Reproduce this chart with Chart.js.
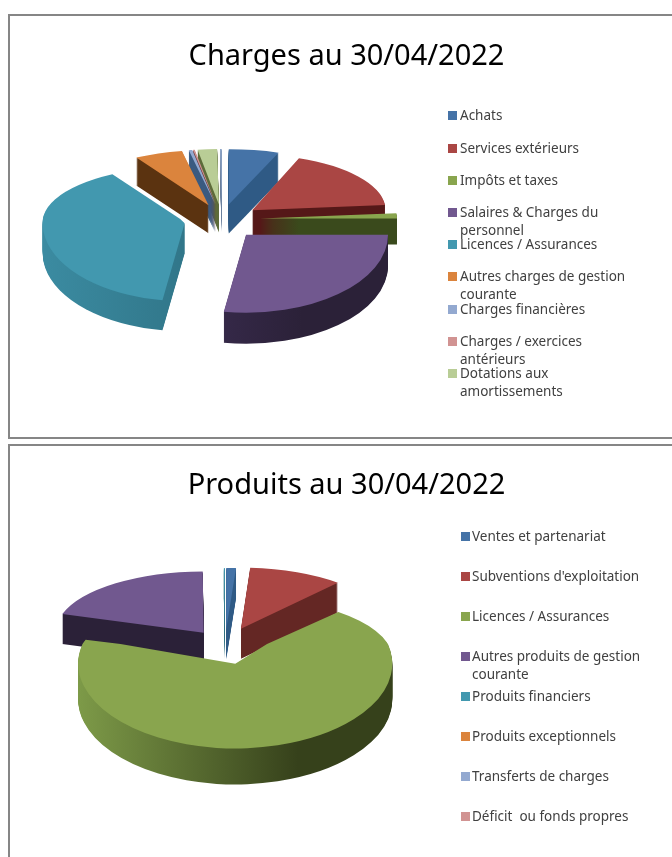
<!DOCTYPE html>
<html lang="fr"><head><meta charset="utf-8">
<script src="https://cdn.jsdelivr.net/npm/chart.js@4"></script>
<style>
html,body{margin:0;padding:0;background:#fff;width:672px;height:857px;overflow:hidden}
.frame{position:absolute;left:8px;width:700px;border:2px solid #868686;box-sizing:border-box;background:#fff}
canvas{position:absolute;left:9px}
.lg{position:absolute;font:13.5px/18px "Noto Sans",sans-serif;color:#404040;width:178px;white-space:pre-wrap}
.sw{position:absolute;width:9px;height:9px}
</style></head><body>
<div class="frame" style="top:14px;height:425px"></div>
<div class="frame" style="top:444px;height:460px"></div>
<div style="position:absolute;left:9px;top:0;width:675px;height:440px"><canvas id="c1" style="left:0"></canvas></div>
<div style="position:absolute;left:9px;top:430px;width:675px;height:427px"><canvas id="c2" style="left:0"></canvas></div>
<div id="legends"></div>
<script>
// ---- data (percent of total) ----
const chargesCategories = ["Achats","Services extérieurs","Impôts et taxes","Salaires & Charges du personnel","Licences / Assurances","Autres charges de gestion courante","Charges financières","Charges / exercices antérieurs","Dotations aux amortissements",""];
const chargesValues = [5.7,17.8,1.5,27.5,39,5.5,0.4,0.2,2.2,0.2];
const produitsCategories = ["Ventes et partenariat","Subventions d'exploitation","Licences / Assurances","Autres produits de gestion courante","Produits financiers","Produits exceptionnels","Transferts de charges","Déficit  ou fonds propres"];
const produitsValues = [1,10.4,68.5,20,0.1,0,0,0];
const chargesTitle = "Charges au 30/04/2022";
const produitsTitle = "Produits au 30/04/2022";

// ---- styles ----
const topColors = ["#4573a7","#aa4644","#89a54e","#71588f","#4298af","#db843d","#93a9d0","#d19392","#b9cd96","#8fa6c8"];
const topColors2 = ["#4573a7","#aa4644","#89a54e","#71588f","#4298af","#db843d","#93a9d0","#d19392"];
const wallL = ["#2f5a85","#551818","#3a4a1c","#43335f","#3b8ba1","#5b3310","#3a5a80","#6b3a3a","#5d6b3a","#6a7f9c"];
const wallR = ["#2f5a85","#551818","#3a4a1c","#2b2138","#2d6e80","#5b3310","#3a5a80","#6b3a3a","#5d6b3a","#6a7f9c"];
const wallL2 = ["#2f5a85","#642724","#7d9a48","#2b2138","#2d6e80","#5b3310","#3a5a80","#6b3a3a"];
const wallR2 = ["#2f5a85","#642724","#36411b","#2b2138","#2d6e80","#5b3310","#3a5a80","#6b3a3a"];

// draws each slice as an extruded, foreshortened wedge using the library's own arc elements
const pie3d = {
  id:'pie3d',
  beforeDatasetDraw(chart){ return false; },
  afterDatasetsDraw(chart,args,o){
    const ctx=chart.ctx, meta=chart.getDatasetMeta(0), W=chart.width, H=chart.height;
    const list=meta.data.map((a,i)=>{
      const mid=(a.startAngle+a.endAngle)/2, off=o.explode[i];
      return {a,i,ox:Math.cos(mid)*off+o.shiftX,oy:Math.sin(mid)*off};
    }).sort((p,q)=>p.oy-q.oy);
    const cy=Math.round(list[0].a.y);
    const piece=(p,opts,dy)=>{
      const saved=p.a.options;
      p.a.options=opts;
      [[o.kBack,0,cy+dy],[o.kFront,cy+dy,H]].forEach(([k,y0,y1])=>{
        ctx.save();
        ctx.beginPath();ctx.rect(0,y0,W,y1-y0);ctx.clip();
        ctx.translate(0,cy+dy);ctx.scale(1,k);ctx.translate(0,-cy);
        ctx.translate(p.ox,p.oy);
        ctx.translate(p.a.x,0);ctx.scale(o.narrow[p.i],1);ctx.translate(-p.a.x,0);
        p.a.draw(ctx);
        ctx.restore();
      });
      p.a.options=saved;
    };
    list.forEach(p=>{
      const base=Object.assign({},p.a.options,{offset:0,borderWidth:0,spacing:0});
      const R=p.a.outerRadius;
      const g=ctx.createLinearGradient(p.a.x-R,0,p.a.x+R,0);
      g.addColorStop(0,o.wallL[p.i]);g.addColorStop(0.7,o.wallR[p.i]);g.addColorStop(1,o.wallR[p.i]);
      const wall=Object.assign({},base,{backgroundColor:g});
      for(let d=o.depth[p.i];d>=1;d--) piece(p,wall,d);
      piece(p,base,0);
    });
  }
};

function makeChart(id,h,title,cats,vals,colors,cfg){
  const cv=document.getElementById(id);
  cv.width=675;cv.height=h;cv.style.width='675px';cv.style.height=h+'px';
  return new Chart(cv,{
    type:'pie',
    data:{labels:cats,datasets:[{data:vals,backgroundColor:colors,borderWidth:0,radius:cfg.radius,clip:false}]},
    options:{
      responsive:false,animation:false,
      layout:{padding:{left:0,right:0,top:0,bottom:cfg.padBottom}},
      plugins:{
        legend:{display:false},tooltip:{enabled:false},
        title:{display:true,text:title,color:'#000',font:{family:'"Noto Sans",sans-serif',size:29,weight:'normal',lineHeight:1.2},padding:{top:cfg.titleTop,bottom:0}},
        pie3d:{explode:cfg.explode,depth:cfg.depth,narrow:cfg.narrow,kBack:cfg.kBack,kFront:cfg.kFront,wallL:cfg.wallL,wallR:cfg.wallR,shiftX:cfg.shiftX}
      }
    },
    plugins:[pie3d]
  });
}
makeChart('c1',440,chargesTitle,chargesCategories,chargesValues,topColors,{
  radius:142,shiftX:-124.5,padBottom:75,titleTop:39,kBack:0.39,kFront:0.55,
  explode:[38,38,38,37,38,38,38,38,38,38],
  narrow:[1,0.94,0.965,1,1,1,1,1,1,1],
  depth:[29,29,26,31,30,28,28,28,28,28],wallL,wallR});
makeChart('c2',427,produitsTitle,produitsCategories,produitsValues,topColors2,{
  radius:157,shiftX:-121.5,padBottom:72,titleTop:38,kBack:0.39,kFront:0.54,
  explode:[38,42,38,36,38,38,38,38],
  narrow:[1,0.94,1,0.945,1,1,1,1],
  depth:[30,30,36,30,30,30,30,30],wallL:wallL2,wallR:wallR2});

// ---- legends ----
function legend(cats,colors,swX,txtX,rows){
  const host=document.getElementById('legends');
  cats.forEach((c,i)=>{
    if(!c) return;
    const s=document.createElement('div');s.className='sw';
    s.style.cssText=`left:${swX}px;top:${rows[i]-4}px;background:${colors[i]}`;host.appendChild(s);
    const t=document.createElement('div');t.className='lg';t.textContent=c;
    t.style.left=txtX+'px';t.style.top=(rows[i]-9)+'px';host.appendChild(t);
  });
}
legend(chargesCategories,topColors,448,460,[115,148,180,212,244,276,309,341,373]);
legend(produitsCategories,topColors2,461,472,[536,576,616,656,696,736,776,816]);
</script>
</body></html>
